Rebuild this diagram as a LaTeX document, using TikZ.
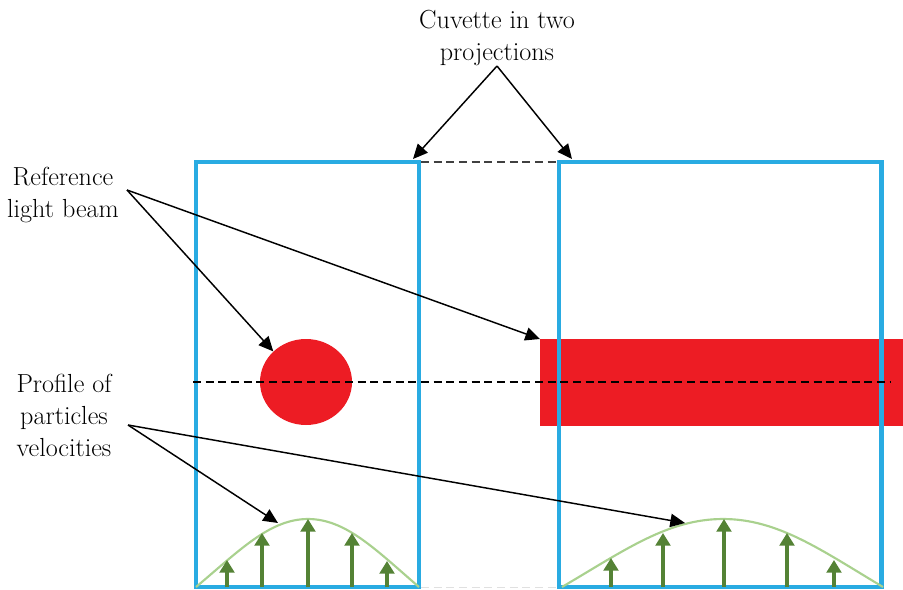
\documentclass[tikz,border=0pt]{standalone}
\usepackage{fontspec}
\usetikzlibrary{arrows.meta,shapes.geometric}
\definecolor{cuvblue}{RGB}{41,171,226}
\definecolor{beamred}{RGB}{237,28,36}
\definecolor{profgreen}{RGB}{169,209,142}
\definecolor{velgreen}{RGB}{84,130,53}
\begin{document}
\begin{tikzpicture}[x=0.75pt,y=-0.75pt,
 txt/.style={font=\fontsize{19.6}{24}\selectfont, align=center, inner sep=0pt},
 cuvette/.style={draw=cuvblue, line width=3.2pt, line join=miter},
 pointer/.style={draw=black, line width=1.1pt, -{Triangle[length=11pt,width=10pt]}},
 axisline/.style={draw=black, line width=0.8pt, dash pattern=on 6pt off 3.5pt},
 profile/.style={draw=profgreen, line width=1.6pt},
 vel/.style={draw=velgreen, line width=2.4pt, -{Triangle[length=9.5pt,width=11pt]}},
]
\useasboundingbox (0,0) rectangle (903,589);

% beam cross-sections
\node[ellipse, fill=beamred, minimum width=69pt, minimum height=64.5pt, inner sep=0pt] (spot) at (306,382) {};
\node[rectangle, fill=beamred, minimum width=272.25pt, minimum height=65.25pt, inner sep=0pt, anchor=north west] (band) at (540,339) {};

% cuvettes
\draw[cuvette] (196,162) rectangle (419,587);
\draw[cuvette] (559,162) rectangle (881.5,587);

% dashed lines
\draw[axisline, draw=black!75] (421,162) -- (557,162);
\draw[axisline] (193,382) -- (890,382);
\draw[draw=black!12, line width=0.8pt, dash pattern=on 6pt off 3.5pt] (421,587.5) -- (557,587.5);

% velocity profiles
\draw[profile] (196,587) .. controls (240,550) and (270,519) .. (308,519) .. controls (346,519) and (376,550) .. (419,587);
\draw[profile] (562,587) .. controls (625,550) and (668,519) .. (723,519) .. controls (778,519) and (821,550) .. (883,587);
\foreach \x/\t in {227/560, 262/533, 308/519, 352/533, 387/561, 611/558, 663/533, 724/519, 787/533, 834/560}
  \draw[vel] (\x,587) -- (\x,\t);

% labels
\node[txt] (cuvtext) at (497,38) {Cuvette in two\\projections};
\node[txt] (reftext) at (63,195) {Reference\\light beam};
\node[txt] (proftext) at (64,415) {Profile of\\particles\\velocities};

% connector ends
\coordinate (cuvsrc) at (497,66);
\coordinate (reffrom) at (127,190);
\coordinate (proffrom) at (128,425);
\coordinate (cuvL) at (413,159);
\coordinate (cuvR) at (572,159);
\coordinate (profL) at (278,523);
\coordinate (profR) at (685,523);

% pointers
\draw[pointer] (cuvsrc) -- (cuvL);
\draw[pointer] (cuvsrc) -- (cuvR);
\draw[pointer] (reffrom) -- (spot.north west);
\draw[pointer] (reffrom) -- (band.north west);
\draw[pointer] (proffrom) -- (profL);
\draw[pointer] (proffrom) -- (profR);
\end{tikzpicture}
\end{document}
